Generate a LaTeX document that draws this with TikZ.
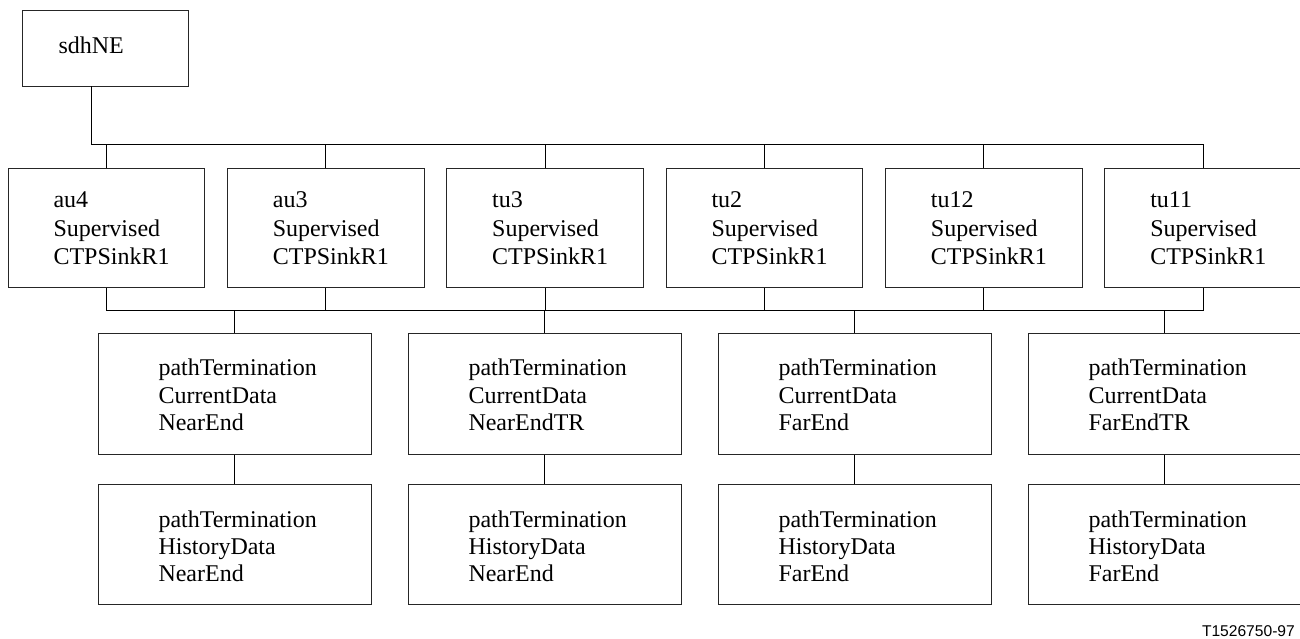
\documentclass[tikz,border=0pt]{standalone}
\usepackage{fontspec}
\setmainfont{Liberation Serif}
\newfontfamily\lsans{Liberation Sans}
\begin{document}
\begin{tikzpicture}[x=1pt,y=-1pt,
  frame/.style={draw=black!85, line width=0.8pt, rectangle, inner sep=0pt, anchor=north west},
  boxA/.style={frame, minimum width=196.7pt, minimum height=119pt},
  boxB/.style={frame, minimum width=272.3pt, minimum height=120.7pt},
  txt/.style={inner sep=0pt, anchor=north west, align=left, font=\fontsize{24}{28.5}\selectfont},
  txtB/.style={txt, font=\fontsize{24}{27.4}\selectfont},
  conn/.style={draw=black, line width=1pt}]
\useasboundingbox (0,0) rectangle (1300,639);
\clip (0,0) rectangle (1300,639);
% top box
\node[frame, minimum width=165.9pt, minimum height=75.7pt] (sdh) at (21.7,10) {};
\node[txt] (sdht) at ([shift={(36.6,26.9)}]sdh.north west) {sdhNE};
% row 2
\foreach \n/\lab [count=\i from 0] in {au4/au4,au3/au3,tu3/tu3,tu2/tu2,tuA/tu12,tuB/tu11}{
  \node[boxA] (\n) at (7.7+219.35*\i,168.3) {};
  \node[txt] (\n t) at ([shift={(45.6,23.4)}]\n.north west) {\lab\\Supervised\\CTPSinkR1};
}
% row 3 and 4
\foreach \n/\a/\b [count=\i from 0] in {pA/NearEnd/NearEnd,pB/NearEndTR/NearEnd,pC/FarEnd/FarEnd,pD/FarEndTR/FarEnd}{
  \node[boxB] (\n) at (98.3+310*\i,333.3) {};
  \node[txtB] (\n t) at ([shift={(60,25.6)}]\n.north west) {pathTermination\\CurrentData\\\a};
  \node[boxB] (h\n) at (98.3+310*\i,483.7) {};
  \node[txtB] (h\n t) at ([shift={(60,26.6)}]h\n.north west) {pathTermination\\HistoryData\\\b};
}
% connectors
\coordinate (busA) at (tuB.north |- 0,144.5);
\coordinate (busB) at (tuB.south |- 0,310.7);
\draw[conn] ([xshift=-13.6pt]sdh.south) |- (busA) -- (tuB.north);
\foreach \n in {au4,au3,tu3,tu2,tuA}{
  \draw[conn] (\n.north) -- (\n.north |- busA);
}
\draw[conn] (au4.south) |- (busB) -- (tuB.south);
\foreach \n in {au3,tu3,tu2,tuA}{
  \draw[conn] (\n.south) -- (\n.south |- busB);
}
\foreach \n in {pA,pB,pC,pD}{
  \draw[conn] (\n.north |- busB) -- (\n.north);
  \draw[conn] (\n.south) -- (h\n.north);
}
\node[inner sep=0pt, anchor=base east, font=\lsans\fontsize{15.6}{18}\selectfont] (tag) at (1295,636.7) {T1526750-97};
\end{tikzpicture}
\end{document}
